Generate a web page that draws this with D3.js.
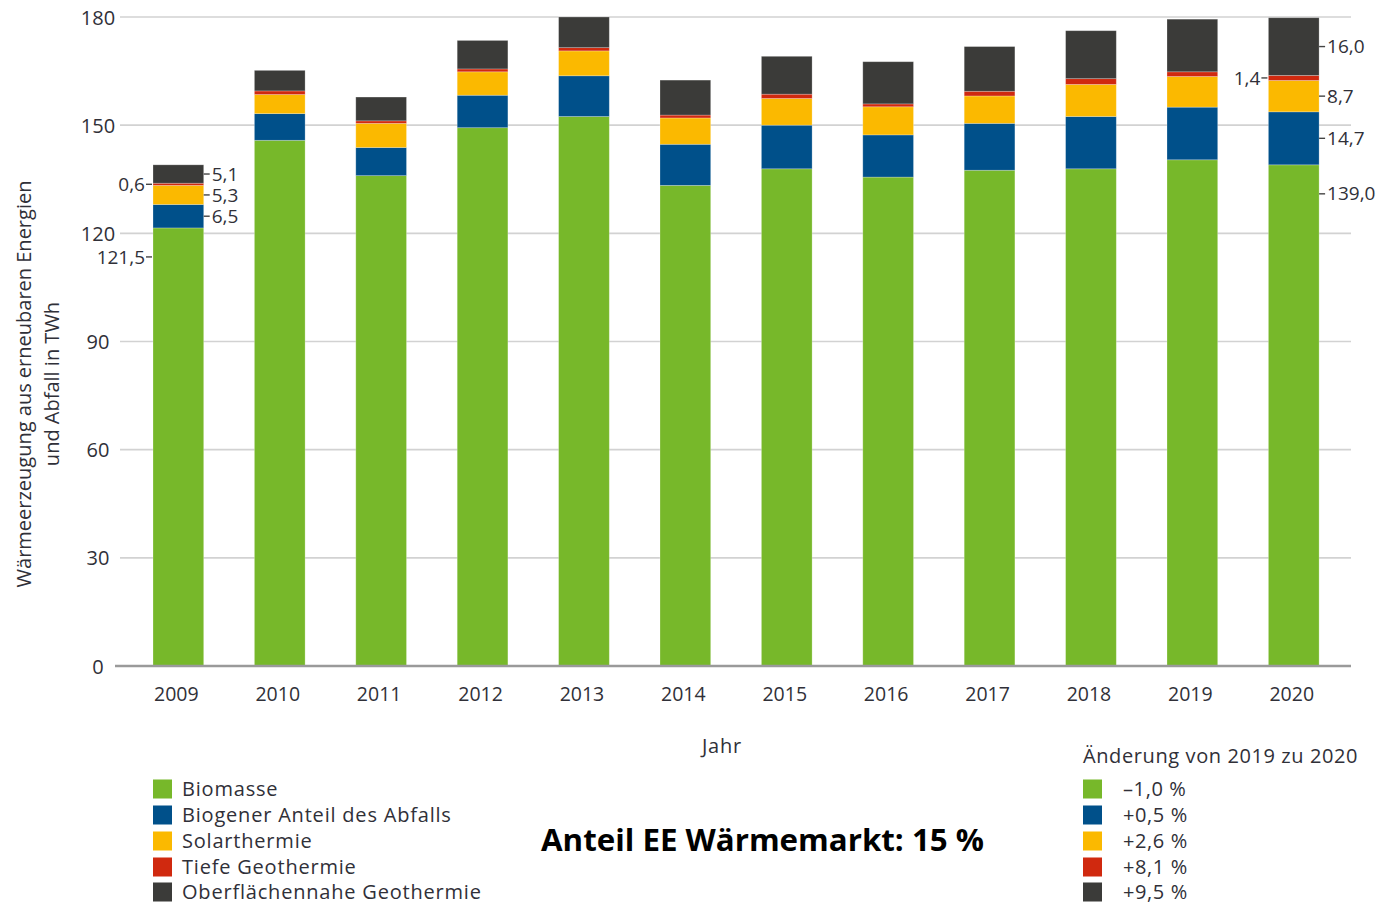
<!DOCTYPE html>
<html>
<head>
<meta charset="utf-8">
<script src="https://cdn.jsdelivr.net/npm/d3@7"></script>
<style>
    body { margin: 0; background: #fff; }
    svg { display: block; font-family: "Open Sans", "Noto Sans", sans-serif; }
</style>
</head>
<body>
<svg id="chart" width="1377" height="905"></svg>
<script>
// Daten: Wärmeerzeugung aus erneuerbaren Energien (TWh)
const years = [2009, 2010, 2011, 2012, 2013, 2014, 2015, 2016, 2017, 2018, 2019, 2020];
const biomasse = [121.5, 145.8, 136.0, 149.3, 152.4, 133.3, 137.9, 135.6, 137.5, 137.9, 140.4, 139.0];
const abfall = [6.5, 7.4, 7.8, 9.0, 11.3, 11.4, 12.1, 11.7, 13.0, 14.5, 14.6, 14.7];
const solarthermie = [5.3, 5.3, 6.7, 6.5, 6.9, 7.3, 7.4, 7.8, 7.6, 8.9, 8.5, 8.7];
const tiefeGeo = [0.6, 1.0, 0.7, 0.8, 0.9, 0.8, 1.2, 0.8, 1.3, 1.6, 1.3, 1.4];
const oberflGeo = [5.1, 5.7, 6.6, 7.9, 8.5, 9.7, 10.5, 11.7, 12.4, 13.3, 14.6, 16.0];

const seriesKeys = ["bio", "abfall", "solar", "tiefe", "oberfl"];
const seriesNames = ["Biomasse", "Biogener Anteil des Abfalls", "Solarthermie", "Tiefe Geothermie", "Oberflächennahe Geothermie"];
const seriesColors = ["#77b82a", "#00508a", "#fbb900", "#d0290f", "#3b3b39"];
const changes = ["–1,0 %", "+0,5 %", "+2,6 %", "+8,1 %", "+9,5 %"];
const yTicks = [0, 30, 60, 90, 120, 150, 180];

// Beschriftete Segmente (Jahr, Reihe, Seite)
const annotations = [
    { year: 2009, key: "oberfl", side: "right" },
    { year: 2009, key: "solar", side: "right" },
    { year: 2009, key: "abfall", side: "right" },
    { year: 2009, key: "tiefe", side: "left" },
    { year: 2009, key: "bio", side: "left" },
    { year: 2020, key: "oberfl", side: "right" },
    { year: 2020, key: "solar", side: "right" },
    { year: 2020, key: "abfall", side: "right" },
    { year: 2020, key: "bio", side: "right" },
    { year: 2020, key: "tiefe", side: "left" }
];

const textColor = "#303038";

const table = years.map((yr, i) => ({
    year: yr,
    bio: biomasse[i],
    abfall: abfall[i],
    solar: solarthermie[i],
    tiefe: tiefeGeo[i],
    oberfl: oberflGeo[i]
}));

const svg = d3.select("#chart");

const x = d3.scaleBand()
    .domain(years)
    .range([102.3, 1369.8])
    .paddingInner(0.5)
    .paddingOuter(0.5);

const y = d3.scaleLinear()
    .domain([0, 180])
    .range([666, 17]);

// Gitternetzlinien
svg.append("g")
    .selectAll("line")
    .data(yTicks.filter(d => d > 0))
    .enter()
    .append("line")
    .attr("x1", 120)
    .attr("x2", 1351)
    .attr("y1", d => y(d))
    .attr("y2", d => y(d))
    .attr("stroke", "#d2d2d2")
    .attr("stroke-width", 1.6);

// Y-Achse Beschriftung
const yAxis = svg.append("g")
    .attr("transform", "translate(98,0)")
    .call(d3.axisLeft(y).tickValues(yTicks).tickSize(0).tickPadding(0));
yAxis.select(".domain").remove();
yAxis.selectAll("text")
    .attr("text-anchor", "middle")
    .attr("dy", "0.35em")
    .style("font-size", "20px")
    .style("font-family", "'Open Sans', sans-serif")
    .style("fill", textColor);

// Gestapelte Balken
const stack = d3.stack().keys(seriesKeys);
const stacked = stack(table);

svg.append("g")
    .selectAll("g")
    .data(stacked)
    .enter()
    .append("g")
    .attr("fill", (d, i) => seriesColors[i])
    .selectAll("rect")
    .data(d => d)
    .enter()
    .append("rect")
    .attr("x", d => x(d.data.year))
    .attr("y", d => y(d[1]))
    .attr("width", x.bandwidth())
    .attr("height", d => y(d[0]) - y(d[1]))
    .attr("stroke", "#ffffff")
    .attr("stroke-opacity", 0.3)
    .attr("stroke-width", 0.8);

// X-Achse (Grundlinie)
svg.append("line")
    .attr("x1", 115)
    .attr("x2", 1351)
    .attr("y1", y(0))
    .attr("y2", y(0))
    .attr("stroke", "#9a9a9a")
    .attr("stroke-width", 2.5);

const xAxis = svg.append("g")
    .attr("transform", `translate(0,${y(0)})`)
    .call(d3.axisBottom(x).tickSize(0).tickPadding(0));
xAxis.select(".domain").remove();
xAxis.selectAll("text")
    .attr("x", -2)
    .attr("y", 35)
    .attr("dy", 0)
    .style("font-size", "19.5px")
    .style("font-family", "'Open Sans', sans-serif")
    .style("fill", textColor);

svg.append("text")
    .attr("x", 722)
    .attr("y", 753)
    .attr("text-anchor", "middle")
    .style("font-size", "20px")
    .style("letter-spacing", "0.8px")
    .style("fill", textColor)
    .text("Jahr");

// Y-Achsentitel
const yTitle = svg.append("text")
    .attr("transform", "translate(0,384) rotate(-90)")
    .attr("text-anchor", "middle")
    .style("font-size", "20px")
    .style("fill", textColor);
yTitle.append("tspan").attr("x", 0).attr("y", 31).text("Wärmeerzeugung aus erneubaren Energien");
yTitle.append("tspan").attr("x", 0).attr("y", 59).text("und Abfall in TWh");

// Werte an den Segmenten
const fmt = v => d3.format(".1f")(v).replace(".", ",");
const annG = svg.append("g");
annotations.forEach(a => {
    const si = seriesKeys.indexOf(a.key);
    const yi = years.indexOf(a.year);
    const seg = stacked[si][yi];
    const yPos = a.key === "bio" ? y(seg[1]) + 29 : (y(seg[0]) + y(seg[1])) / 2;
    const left = x(a.year);
    const right = left + x.bandwidth();
    const x0 = a.side === "left" ? left - 7 : right;
    annG.append("line")
        .attr("x1", x0)
        .attr("x2", x0 + 6)
        .attr("y1", yPos)
        .attr("y2", yPos)
        .attr("stroke", "#444")
        .attr("stroke-width", 1.4);
    annG.append("text")
        .attr("x", a.side === "left" ? left - 8 : right + 8)
        .attr("y", yPos)
        .attr("dy", "0.35em")
        .attr("text-anchor", a.side === "left" ? "end" : "start")
        .style("font-size", "19px")
        .style("fill", textColor)
        .text(fmt(seg.data[a.key]));
});

// Legende links
const legendRows = [789, 815, 841, 867, 892];
const legend = svg.append("g");
seriesNames.forEach((name, i) => {
    legend.append("rect")
        .attr("x", 153)
        .attr("y", legendRows[i] - 9.5)
        .attr("width", 19)
        .attr("height", 19)
        .attr("fill", seriesColors[i]);
    legend.append("text")
        .attr("x", 182)
        .attr("y", legendRows[i] + 7)
        .style("font-size", "20px")
        .style("letter-spacing", "0.8px")
        .style("fill", textColor)
        .text(name);
});

// Legende rechts: Änderung
const legend2 = svg.append("g");
legend2.append("text")
    .attr("x", 1083)
    .attr("y", 763)
    .style("font-size", "20px")
    .style("letter-spacing", "0.6px")
    .style("fill", textColor)
    .text("Änderung von 2019 zu 2020");
changes.forEach((c, i) => {
    legend2.append("rect")
        .attr("x", 1083)
        .attr("y", legendRows[i] - 9.5)
        .attr("width", 19)
        .attr("height", 19)
        .attr("fill", seriesColors[i]);
    legend2.append("text")
        .attr("x", 1123)
        .attr("y", legendRows[i] + 7)
        .style("font-size", "20px")
        .style("letter-spacing", "0.6px")
        .style("fill", textColor)
        .text(c);
});

// Hinweistext
svg.append("text")
    .attr("x", 541)
    .attr("y", 851)
    .attr("textLength", 443)
    .attr("lengthAdjust", "spacingAndGlyphs")
    .style("font-size", "30px")
    .style("font-weight", "bold")
    .style("fill", "#000")
    .text("Anteil EE Wärmemarkt: 15 %");
</script>
</body>
</html>
